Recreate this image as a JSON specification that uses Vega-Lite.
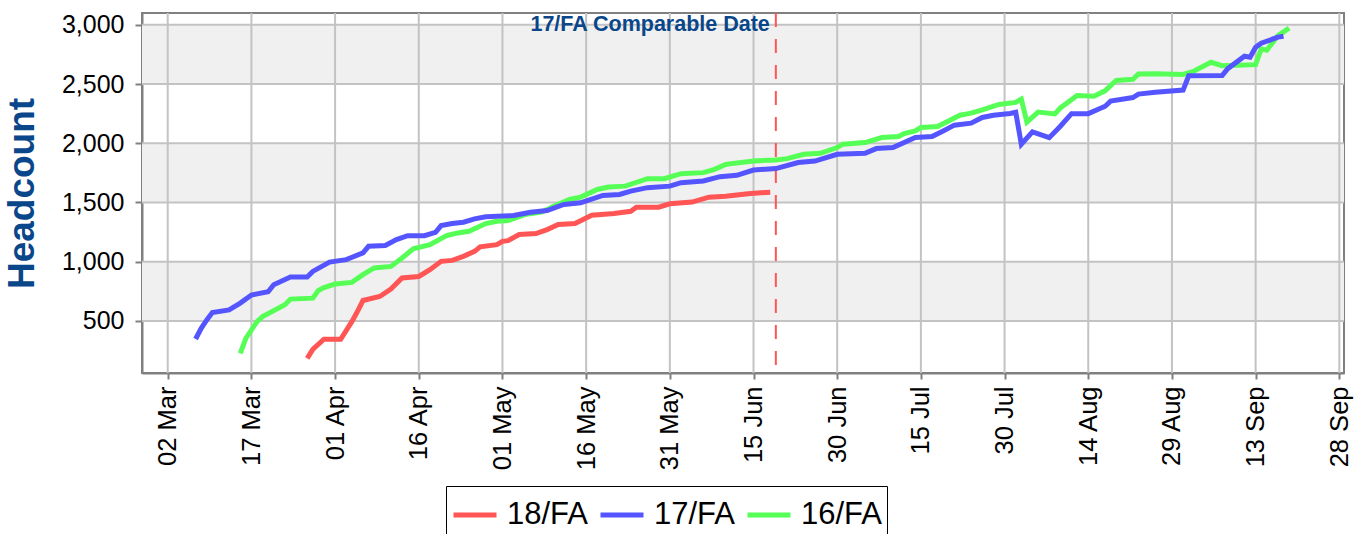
{
  "$schema": "https://vega.github.io/schema/vega-lite/v6.json",
  "width": 1202,
  "height": 360,
  "autosize": {"type": "none"},
  "padding": {"left": 142, "top": 13, "right": 18, "bottom": 161},
  "background": "white",
  "config": {
    "font": "Liberation Sans",
    "view": {"stroke": "#808080", "strokeWidth": 2},
    "axis": {"grid": false, "domainColor": "#808080", "domainWidth": 2, "tickColor": "#808080", "tickWidth": 2, "labelColor": "black", "labelFont": "Liberation Sans", "zindex": 1}
  },
  "datasets": {
    "bands": [{"lo": 500, "hi": 1000}, {"lo": 1500, "hi": 2000}, {"lo": 2500, "hi": 3000}],
    "ygrid": [{"value": 500}, {"value": 1000}, {"value": 1500}, {"value": 2000}, {"value": 2500}, {"value": 3000}],
    "xgrid": [{"date": "2018-03-02"}, {"date": "2018-03-17"}, {"date": "2018-04-01"}, {"date": "2018-04-16"}, {"date": "2018-05-01"}, {"date": "2018-05-16"}, {"date": "2018-05-31"}, {"date": "2018-06-15"}, {"date": "2018-06-30"}, {"date": "2018-07-15"}, {"date": "2018-07-30"}, {"date": "2018-08-14"}, {"date": "2018-08-29"}, {"date": "2018-09-13"}, {"date": "2018-09-28"}],
    "marker": [{"date": "2018-06-19", "label": "17/FA Comparable Date"}],
    "series": [
      {"series": "16/FA", "date": "2018-03-15", "value": 226},
      {"series": "16/FA", "date": "2018-03-16", "value": 353},
      {"series": "16/FA", "date": "2018-03-18", "value": 494},
      {"series": "16/FA", "date": "2018-03-19", "value": 536},
      {"series": "16/FA", "date": "2018-03-23", "value": 636},
      {"series": "16/FA", "date": "2018-03-24", "value": 684},
      {"series": "16/FA", "date": "2018-03-28", "value": 692},
      {"series": "16/FA", "date": "2018-03-29", "value": 757},
      {"series": "16/FA", "date": "2018-03-30", "value": 782},
      {"series": "16/FA", "date": "2018-04-01", "value": 811},
      {"series": "16/FA", "date": "2018-04-04", "value": 825},
      {"series": "16/FA", "date": "2018-04-06", "value": 890},
      {"series": "16/FA", "date": "2018-04-08", "value": 947},
      {"series": "16/FA", "date": "2018-04-11", "value": 960},
      {"series": "16/FA", "date": "2018-04-13", "value": 1031},
      {"series": "16/FA", "date": "2018-04-15", "value": 1108},
      {"series": "16/FA", "date": "2018-04-18", "value": 1144},
      {"series": "16/FA", "date": "2018-04-21", "value": 1220},
      {"series": "16/FA", "date": "2018-04-23", "value": 1243},
      {"series": "16/FA", "date": "2018-04-25", "value": 1257},
      {"series": "16/FA", "date": "2018-04-28", "value": 1322},
      {"series": "16/FA", "date": "2018-04-30", "value": 1342},
      {"series": "16/FA", "date": "2018-05-02", "value": 1348},
      {"series": "16/FA", "date": "2018-05-05", "value": 1398},
      {"series": "16/FA", "date": "2018-05-08", "value": 1418},
      {"series": "16/FA", "date": "2018-05-10", "value": 1464},
      {"series": "16/FA", "date": "2018-05-13", "value": 1525},
      {"series": "16/FA", "date": "2018-05-15", "value": 1545},
      {"series": "16/FA", "date": "2018-05-18", "value": 1610},
      {"series": "16/FA", "date": "2018-05-20", "value": 1630},
      {"series": "16/FA", "date": "2018-05-23", "value": 1638},
      {"series": "16/FA", "date": "2018-05-27", "value": 1701},
      {"series": "16/FA", "date": "2018-05-30", "value": 1701},
      {"series": "16/FA", "date": "2018-06-02", "value": 1743},
      {"series": "16/FA", "date": "2018-06-06", "value": 1752},
      {"series": "16/FA", "date": "2018-06-08", "value": 1780},
      {"series": "16/FA", "date": "2018-06-10", "value": 1822},
      {"series": "16/FA", "date": "2018-06-15", "value": 1850},
      {"series": "16/FA", "date": "2018-06-19", "value": 1859},
      {"series": "16/FA", "date": "2018-06-21", "value": 1870},
      {"series": "16/FA", "date": "2018-06-24", "value": 1907},
      {"series": "16/FA", "date": "2018-06-27", "value": 1915},
      {"series": "16/FA", "date": "2018-06-30", "value": 1964},
      {"series": "16/FA", "date": "2018-07-01", "value": 1992},
      {"series": "16/FA", "date": "2018-07-05", "value": 2006},
      {"series": "16/FA", "date": "2018-07-08", "value": 2048},
      {"series": "16/FA", "date": "2018-07-11", "value": 2057},
      {"series": "16/FA", "date": "2018-07-12", "value": 2082},
      {"series": "16/FA", "date": "2018-07-14", "value": 2104},
      {"series": "16/FA", "date": "2018-07-15", "value": 2133},
      {"series": "16/FA", "date": "2018-07-18", "value": 2142},
      {"series": "16/FA", "date": "2018-07-22", "value": 2237},
      {"series": "16/FA", "date": "2018-07-24", "value": 2254},
      {"series": "16/FA", "date": "2018-07-26", "value": 2282},
      {"series": "16/FA", "date": "2018-07-29", "value": 2328},
      {"series": "16/FA", "date": "2018-08-01", "value": 2345},
      {"series": "16/FA", "date": "2018-08-02", "value": 2373},
      {"series": "16/FA", "date": "2018-08-03", "value": 2178},
      {"series": "16/FA", "date": "2018-08-05", "value": 2263},
      {"series": "16/FA", "date": "2018-08-08", "value": 2248},
      {"series": "16/FA", "date": "2018-08-09", "value": 2298},
      {"series": "16/FA", "date": "2018-08-12", "value": 2404},
      {"series": "16/FA", "date": "2018-08-15", "value": 2398},
      {"series": "16/FA", "date": "2018-08-17", "value": 2443},
      {"series": "16/FA", "date": "2018-08-19", "value": 2531},
      {"series": "16/FA", "date": "2018-08-22", "value": 2540},
      {"series": "16/FA", "date": "2018-08-23", "value": 2585},
      {"series": "16/FA", "date": "2018-08-26", "value": 2587},
      {"series": "16/FA", "date": "2018-08-31", "value": 2581},
      {"series": "16/FA", "date": "2018-09-02", "value": 2610},
      {"series": "16/FA", "date": "2018-09-05", "value": 2684},
      {"series": "16/FA", "date": "2018-09-07", "value": 2655},
      {"series": "16/FA", "date": "2018-09-13", "value": 2664},
      {"series": "16/FA", "date": "2018-09-14", "value": 2797},
      {"series": "16/FA", "date": "2018-09-15", "value": 2786},
      {"series": "16/FA", "date": "2018-09-17", "value": 2909},
      {"series": "16/FA", "date": "2018-09-19", "value": 2972},
      {"series": "18/FA", "date": "2018-03-27", "value": 184},
      {"series": "18/FA", "date": "2018-03-28", "value": 260},
      {"series": "18/FA", "date": "2018-03-30", "value": 345},
      {"series": "18/FA", "date": "2018-04-02", "value": 345},
      {"series": "18/FA", "date": "2018-04-04", "value": 494},
      {"series": "18/FA", "date": "2018-04-05", "value": 579},
      {"series": "18/FA", "date": "2018-04-06", "value": 672},
      {"series": "18/FA", "date": "2018-04-09", "value": 706},
      {"series": "18/FA", "date": "2018-04-11", "value": 769},
      {"series": "18/FA", "date": "2018-04-13", "value": 862},
      {"series": "18/FA", "date": "2018-04-16", "value": 875},
      {"series": "18/FA", "date": "2018-04-18", "value": 932},
      {"series": "18/FA", "date": "2018-04-20", "value": 1003},
      {"series": "18/FA", "date": "2018-04-22", "value": 1011},
      {"series": "18/FA", "date": "2018-04-24", "value": 1045},
      {"series": "18/FA", "date": "2018-04-26", "value": 1087},
      {"series": "18/FA", "date": "2018-04-27", "value": 1125},
      {"series": "18/FA", "date": "2018-04-30", "value": 1144},
      {"series": "18/FA", "date": "2018-05-01", "value": 1172},
      {"series": "18/FA", "date": "2018-05-02", "value": 1178},
      {"series": "18/FA", "date": "2018-05-04", "value": 1229},
      {"series": "18/FA", "date": "2018-05-07", "value": 1237},
      {"series": "18/FA", "date": "2018-05-09", "value": 1271},
      {"series": "18/FA", "date": "2018-05-11", "value": 1314},
      {"series": "18/FA", "date": "2018-05-14", "value": 1322},
      {"series": "18/FA", "date": "2018-05-17", "value": 1392},
      {"series": "18/FA", "date": "2018-05-21", "value": 1407},
      {"series": "18/FA", "date": "2018-05-24", "value": 1426},
      {"series": "18/FA", "date": "2018-05-25", "value": 1460},
      {"series": "18/FA", "date": "2018-05-29", "value": 1460},
      {"series": "18/FA", "date": "2018-05-31", "value": 1489},
      {"series": "18/FA", "date": "2018-06-04", "value": 1503},
      {"series": "18/FA", "date": "2018-06-07", "value": 1545},
      {"series": "18/FA", "date": "2018-06-10", "value": 1553},
      {"series": "18/FA", "date": "2018-06-14", "value": 1574},
      {"series": "18/FA", "date": "2018-06-18", "value": 1587},
      {"series": "17/FA", "date": "2018-03-07", "value": 347},
      {"series": "17/FA", "date": "2018-03-08", "value": 438},
      {"series": "17/FA", "date": "2018-03-09", "value": 508},
      {"series": "17/FA", "date": "2018-03-10", "value": 570},
      {"series": "17/FA", "date": "2018-03-13", "value": 593},
      {"series": "17/FA", "date": "2018-03-15", "value": 650},
      {"series": "17/FA", "date": "2018-03-17", "value": 718},
      {"series": "17/FA", "date": "2018-03-20", "value": 746},
      {"series": "17/FA", "date": "2018-03-21", "value": 805},
      {"series": "17/FA", "date": "2018-03-24", "value": 870},
      {"series": "17/FA", "date": "2018-03-27", "value": 870},
      {"series": "17/FA", "date": "2018-03-28", "value": 918},
      {"series": "17/FA", "date": "2018-03-31", "value": 997},
      {"series": "17/FA", "date": "2018-04-03", "value": 1017},
      {"series": "17/FA", "date": "2018-04-06", "value": 1074},
      {"series": "17/FA", "date": "2018-04-07", "value": 1130},
      {"series": "17/FA", "date": "2018-04-10", "value": 1136},
      {"series": "17/FA", "date": "2018-04-12", "value": 1186},
      {"series": "17/FA", "date": "2018-04-14", "value": 1220},
      {"series": "17/FA", "date": "2018-04-17", "value": 1220},
      {"series": "17/FA", "date": "2018-04-19", "value": 1248},
      {"series": "17/FA", "date": "2018-04-20", "value": 1305},
      {"series": "17/FA", "date": "2018-04-22", "value": 1322},
      {"series": "17/FA", "date": "2018-04-24", "value": 1333},
      {"series": "17/FA", "date": "2018-04-26", "value": 1362},
      {"series": "17/FA", "date": "2018-04-28", "value": 1379},
      {"series": "17/FA", "date": "2018-05-03", "value": 1390},
      {"series": "17/FA", "date": "2018-05-06", "value": 1418},
      {"series": "17/FA", "date": "2018-05-09", "value": 1432},
      {"series": "17/FA", "date": "2018-05-12", "value": 1483},
      {"series": "17/FA", "date": "2018-05-15", "value": 1497},
      {"series": "17/FA", "date": "2018-05-19", "value": 1559},
      {"series": "17/FA", "date": "2018-05-22", "value": 1568},
      {"series": "17/FA", "date": "2018-05-24", "value": 1596},
      {"series": "17/FA", "date": "2018-05-27", "value": 1625},
      {"series": "17/FA", "date": "2018-05-31", "value": 1638},
      {"series": "17/FA", "date": "2018-06-02", "value": 1667},
      {"series": "17/FA", "date": "2018-06-06", "value": 1681},
      {"series": "17/FA", "date": "2018-06-09", "value": 1718},
      {"series": "17/FA", "date": "2018-06-12", "value": 1729},
      {"series": "17/FA", "date": "2018-06-15", "value": 1774},
      {"series": "17/FA", "date": "2018-06-19", "value": 1786},
      {"series": "17/FA", "date": "2018-06-23", "value": 1837},
      {"series": "17/FA", "date": "2018-06-26", "value": 1850},
      {"series": "17/FA", "date": "2018-06-30", "value": 1907},
      {"series": "17/FA", "date": "2018-07-05", "value": 1915},
      {"series": "17/FA", "date": "2018-07-07", "value": 1955},
      {"series": "17/FA", "date": "2018-07-10", "value": 1964},
      {"series": "17/FA", "date": "2018-07-14", "value": 2048},
      {"series": "17/FA", "date": "2018-07-17", "value": 2057},
      {"series": "17/FA", "date": "2018-07-19", "value": 2104},
      {"series": "17/FA", "date": "2018-07-21", "value": 2153},
      {"series": "17/FA", "date": "2018-07-24", "value": 2170},
      {"series": "17/FA", "date": "2018-07-26", "value": 2218},
      {"series": "17/FA", "date": "2018-07-28", "value": 2237},
      {"series": "17/FA", "date": "2018-07-31", "value": 2252},
      {"series": "17/FA", "date": "2018-08-01", "value": 2262},
      {"series": "17/FA", "date": "2018-08-02", "value": 1992},
      {"series": "17/FA", "date": "2018-08-04", "value": 2096},
      {"series": "17/FA", "date": "2018-08-07", "value": 2047},
      {"series": "17/FA", "date": "2018-08-09", "value": 2144},
      {"series": "17/FA", "date": "2018-08-11", "value": 2250},
      {"series": "17/FA", "date": "2018-08-14", "value": 2250},
      {"series": "17/FA", "date": "2018-08-16", "value": 2292},
      {"series": "17/FA", "date": "2018-08-17", "value": 2311},
      {"series": "17/FA", "date": "2018-08-18", "value": 2356},
      {"series": "17/FA", "date": "2018-08-22", "value": 2386},
      {"series": "17/FA", "date": "2018-08-23", "value": 2415},
      {"series": "17/FA", "date": "2018-08-26", "value": 2430},
      {"series": "17/FA", "date": "2018-08-31", "value": 2449},
      {"series": "17/FA", "date": "2018-09-01", "value": 2570},
      {"series": "17/FA", "date": "2018-09-07", "value": 2572},
      {"series": "17/FA", "date": "2018-09-08", "value": 2630},
      {"series": "17/FA", "date": "2018-09-11", "value": 2735},
      {"series": "17/FA", "date": "2018-09-12", "value": 2726},
      {"series": "17/FA", "date": "2018-09-13", "value": 2811},
      {"series": "17/FA", "date": "2018-09-14", "value": 2845},
      {"series": "17/FA", "date": "2018-09-17", "value": 2896},
      {"series": "17/FA", "date": "2018-09-18", "value": 2904}
    ]
  },
  "layer": [
    {
      "data": {"name": "bands"},
      "mark": {"type": "rect", "fill": "#f0f0f0"},
      "encoding": {
        "y": {"field": "lo", "type": "quantitative", "scale": {"domain": [60, 3100], "nice": false, "zero": false}},
        "y2": {"field": "hi"}
      }
    },
    {
      "data": {"name": "ygrid"},
      "mark": {"type": "rule", "stroke": "#c3c3c3", "strokeWidth": 2},
      "encoding": {
        "y": {"field": "value", "type": "quantitative", "scale": {"domain": [60, 3100], "nice": false, "zero": false}}
      }
    },
    {
      "data": {"name": "xgrid"},
      "mark": {"type": "rule", "stroke": "#c3c3c3", "strokeWidth": 2},
      "encoding": {
        "x": {"field": "date", "type": "temporal", "scale": {"type": "utc", "domain": [1519550496000, 1538165376000], "nice": false}}
      }
    },
    {
      "data": {"name": "marker"},
      "mark": {"type": "rule", "stroke": "#ff5555", "strokeWidth": 2, "strokeDash": [14, 12]},
      "encoding": {
        "x": {"field": "date", "type": "temporal", "scale": {"type": "utc", "domain": [1519550496000, 1538165376000], "nice": false}}
      }
    },
    {
      "data": {"name": "marker"},
      "mark": {"type": "text", "align": "right", "baseline": "alphabetic", "dx": -6, "dy": 18, "fontSize": 21.5, "fontWeight": "bold", "font": "Liberation Sans", "fill": "#0a468a"},
      "encoding": {
        "x": {"field": "date", "type": "temporal", "scale": {"type": "utc", "domain": [1519550496000, 1538165376000], "nice": false}},
        "y": {"datum": 3100, "type": "quantitative", "scale": {"domain": [60, 3100], "nice": false, "zero": false}},
        "text": {"field": "label"}
      }
    },
    {
      "data": {"name": "series"},
      "mark": {"type": "line", "strokeWidth": 5},
      "encoding": {
        "x": {
          "field": "date", "type": "temporal",
          "scale": {"type": "utc", "domain": [1519550496000, 1538165376000], "nice": false},
          "axis": {
            "title": null,
            "values": [1519948800000, 1521244800000, 1522540800000, 1523836800000, 1525132800000, 1526428800000, 1527724800000, 1529020800000, 1530316800000, 1531612800000, 1532908800000, 1534204800000, 1535500800000, 1536796800000, 1538092800000],
            "format": "%d %b",
            "labelAngle": 270,
            "labelFontSize": 25.5,
            "labelFlush": false,
            "labelOverlap": false,
            "labelPadding": 7,
            "tickSize": 6
          }
        },
        "y": {
          "field": "value", "type": "quantitative",
          "scale": {"domain": [60, 3100], "nice": false, "zero": false},
          "axis": {
            "title": "Headcount",
            "values": [500, 1000, 1500, 2000, 2500, 3000],
            "format": ",.0f",
            "labelFontSize": 25,
            "labelPadding": 11,
            "tickSize": 7,
            "titleFontSize": 37,
            "titleFontWeight": "bold",
            "titleColor": "#0a468a",
            "titleFont": "Liberation Sans",
            "titlePadding": 20
          }
        },
        "color": {
          "field": "series", "type": "nominal",
          "scale": {"domain": ["18/FA", "17/FA", "16/FA"], "range": ["#ff5555", "#5555ff", "#55ff55"]},
          "legend": {
            "orient": "none",
            "legendX": 304,
            "legendY": 473,
            "direction": "horizontal",
            "title": null,
            "symbolType": "stroke",
            "symbolSize": 1849,
            "symbolStrokeWidth": 5,
            "labelFontSize": 31,
            "labelFont": "Liberation Sans",
            "labelColor": "black",
            "labelOffset": 8,
            "columnPadding": 2,
            "padding": 5,
            "strokeColor": "black"
          }
        }
      }
    }
  ]
}
